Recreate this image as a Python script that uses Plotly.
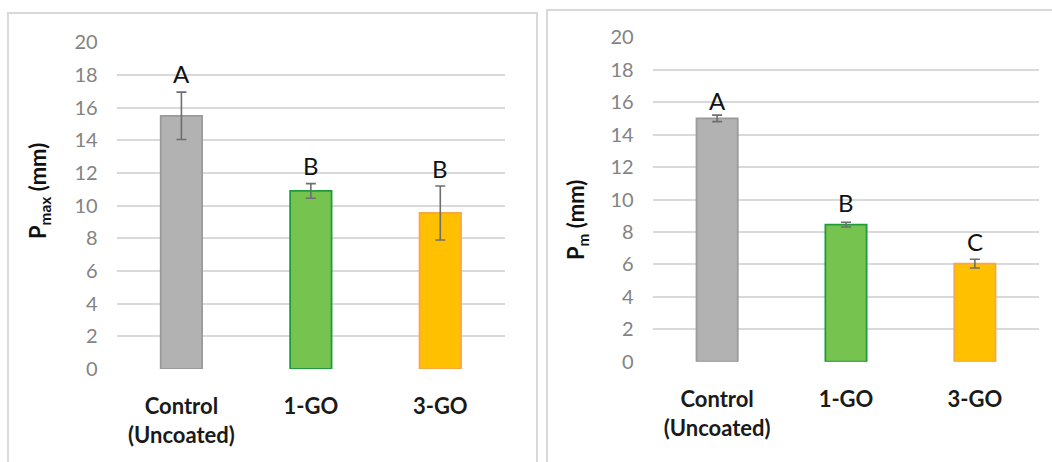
import plotly.graph_objects as go

W, H = 1052, 462

categories = ["Control<br>(Uncoated)", "1-GO", "3-GO"]
pmax_values = [15.5, 10.9, 9.55]
pmax_errors = [1.45, 0.45, 1.65]
pmax_letters = ["A", "B", "B"]
pmax_letter_y = [18.1, 12.45, 12.3]

pm_values = [15.0, 8.45, 6.05]
pm_errors = [0.2, 0.15, 0.27]
pm_letters = ["A", "B", "C"]
pm_letter_y = [16.1, 9.8, 7.4]

fill_colors = ["#b2b2b2", "#77c350", "#ffc000"]
line_colors = ["#9a9a9a", "#1e9c3c", "#f5a845"]

FONT = "Lato, 'Open Sans', sans-serif"

def px_x(p):
    return p / W

def px_y(p):
    return 1 - p / H

fig = go.Figure()

for vals, errs, xa, ya in [(pmax_values, pmax_errors, "x", "y"), (pm_values, pm_errors, "x2", "y2")]:
    fig.add_trace(go.Bar(
        x=categories, y=vals, xaxis=xa, yaxis=ya, width=0.32,
        marker=dict(color=fill_colors, line=dict(color=line_colors, width=1.8)),
        error_y=dict(type="data", array=errs, visible=True, color="#6e6e6e", thickness=1.6, width=5),
        showlegend=False, hoverinfo="skip",
    ))

annotations = []
for cats, letters, ys, xr, yr in [(categories, pmax_letters, pmax_letter_y, "x", "y"),
                                   (categories, pm_letters, pm_letter_y, "x2", "y2")]:
    for c, t, yv in zip(cats, letters, ys):
        annotations.append(dict(x=c, y=yv, xref=xr, yref=yr, text=t, showarrow=False,
                                font=dict(family=FONT, size=24, color="#111111"),
                                xanchor="center", yanchor="middle"))

annotations.append(dict(x=px_x(39), y=px_y(191), xref="paper", yref="paper",
                        text="<b>P<sub>max</sub> (mm)</b>", textangle=-90, showarrow=False,
                        font=dict(family=FONT, size=22, color="#111111"),
                        xanchor="center", yanchor="middle"))
annotations.append(dict(x=px_x(577), y=px_y(220), xref="paper", yref="paper",
                        text="<b>P<sub>m</sub> (mm)</b>", textangle=-90, showarrow=False,
                        font=dict(family=FONT, size=22, color="#111111"),
                        xanchor="center", yanchor="middle"))

shapes = [
    dict(type="rect", xref="paper", yref="paper", x0=px_x(8), x1=px_x(537), y0=px_y(475), y1=px_y(13),
         line=dict(color="#d9d9d9", width=2), fillcolor="rgba(0,0,0,0)", layer="below"),
    dict(type="rect", xref="paper", yref="paper", x0=px_x(547), x1=px_x(1065), y0=px_y(475), y1=px_y(10),
         line=dict(color="#d9d9d9", width=2), fillcolor="rgba(0,0,0,0)", layer="below"),
]

yaxis_common = dict(range=[0, 20], dtick=2, showgrid=True, gridcolor="#d9d9d9", gridwidth=1.8,
                    zeroline=False, showline=False, ticks="outside", ticklen=14,
                    tickcolor="rgba(0,0,0,0)",
                    tickfont=dict(family=FONT, size=20, color="#838383"), fixedrange=True)
xaxis_common = dict(showgrid=False, zeroline=False, showline=False, ticks="outside", ticklen=18,
                    tickcolor="rgba(0,0,0,0)",
                    tickfont=dict(family=FONT, size=22, color="#1a1a1a", weight="bold"), fixedrange=True)

fig.update_layout(
    width=W, height=H,
    autosize=False,
    margin=dict(l=0, r=0, t=0, b=0, pad=0),
    paper_bgcolor="white", plot_bgcolor="white",
    xaxis=dict(domain=[px_x(116.7), px_x(505)], anchor="y", automargin=False, **xaxis_common),
    yaxis=dict(domain=[px_y(369), px_y(42.3)], anchor="x", automargin=False, **yaxis_common),
    xaxis2=dict(domain=[px_x(652.7), px_x(1039.3)], anchor="y2", automargin=False, **xaxis_common),
    yaxis2=dict(domain=[px_y(361.7), px_y(37.3)], anchor="x2", automargin=False, **yaxis_common),
    annotations=annotations,
    shapes=shapes,
    bargap=0.68,
)

fig.write_html("out.html", config={"responsive": False, "displayModeBar": False},
               post_script="document.body.style.margin='0';document.body.style.padding='0';")
